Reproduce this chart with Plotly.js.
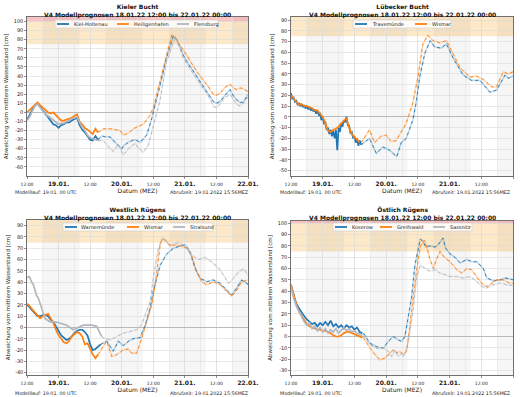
<!DOCTYPE html>
<html><head><meta charset="utf-8">
<script src="https://cdn.plot.ly/plotly-3.0.1.min.js"></script>
<style>html,body{margin:0;padding:0;background:#fff}#chart{width:520px;height:397px}</style>
</head><body><div id="chart"></div>
<script>
// ---------- axis labels ----------
const tickHours = [0, 12, 24, 36, 48, 60, 72, 84];
const tickLabels = ['12:00', '19.01.', '12:00', '20.01.', '12:00', '21.01.', '12:00', '22.01.'];
const nightStart = [6, 30, 54, 78];
const nightEnd = [20, 44, 68, 84];
const ticksKiel = [-60, -50, -40, -30, -20, -10, 0, 10, 20, 30, 40, 50, 60, 70, 80, 90, 100];
const ticksLuebeck = [-50, -40, -30, -20, -10, 0, 10, 20, 30, 40, 50, 60, 70, 80, 90];
const ticksWest = [-40, -30, -20, -10, 0, 10, 20, 30, 40, 50, 60, 70, 80, 90];
const ticksOst = [-30, -20, -10, 0, 10, 20, 30, 40, 50, 60, 70, 80, 90, 100];

// ---------- Kieler Bucht ----------
const kielObsH = [0,1,2,3,4,5,6,7,8,9,10,11,12,13,14,15,16,17,18,19,20,21,22,23,24,25,26,27];
const kielHoltenauObs = [-8,-3,3,8,10,6,2,-2,-6,-9,-13,-14,-17,-14,-13,-11,-11,-9,-7,-6,-14,-19,-22,-26,-30,-31,-26,-30];
const heiligenhafenObs = [0,3,6,9,11,8,5,3,0,-1,0,-3,-6,-9,-9,-8,-7,-6,-4,-2,-10,-14,-17,-19,-22,-24,-18,-22];
const flensburgObs = [-9,-5,1,7,9,5,1,-2,-4,-6,-8,-11,-13,-12,-12,-10,-9,-7,-6,-5,-11,-17,-20,-25,-28,-29,-30,-31];
const kielHoltenauFcH = [27,28.5,30,31.6,33.5,36,37,38.5,40,41.1,43,44.5,45.5,47.4,49.3,51,53,55.6,57,59.4,61,63.2,65,67,69,70.8,72,73.4,75,77.2,78.5,79.7,81,82.2,84];
const kielHoltenauFc = [-30,-26,-27,-27,-33,-40,-36,-33,-31,-30,-33,-28,-25,-7,14,35,60,84,80,63,55,45,37,29,20,12,10,12,18,25,18,14,11,11,20];
const heiligenhafenFcH = [27,29,31.6,33,35.4,36.6,39,40.4,42,44.2,45.5,46.8,48,49.3,51,53,55,56.3,57.5,59.4,61,63.2,65,67,69,70.8,72,73.4,75,77.2,78.5,79.7,81,82.2,84];
const heiligenhafenFc = [-22,-18,-18,-19,-20,-25,-22,-18,-16,-13,-8,-3,5,20,40,65,85,83,76,69,62,51,43,36,28,20,19,21,27,31,27,25,27,26,23];
const flensburgFcH = [27,29,31,32.8,34.7,36.6,38.5,40.4,41.1,42,44.2,46.1,48,49.3,50.6,53,56.3,58,59.4,61,63.2,65,67,69,70.8,72,73.4,75,77.2,78.5,79.7,81,82.2,84];
const flensburgFc = [-31,-31,-38,-43,-35,-47,-40,-36,-34,-38,-44,-36,-15,-2,14,55,83,72,60,52,42,34,26,18,7,5,9,16,20,14,9,7,10,17];

// ---------- Lübecker Bucht ----------
const travemuendeObsH = [0,0.5,1,1.5,2,2.5,3,3.5,4,4.5,5,5.5,6,6.5,7,7.5,8,8.5,9,9.5,10,10.5,11,11.5,12,12.5,13,13.5,14,14.5,15,15.5,16,16.5,17,17.5,18,18.5,19,19.5,20,20.5,21,21.5,22,22.5,23,23.5,24,24.5,25,25.5,26,26.5];
const travemuendeObs = [22,17,18,14,15,11,13,10,12,9,11,8,10,7,9,6,8,5,7,3,6,2,3,-3,0,-6,-5,-12,-10,-16,-12,-18,-13,-20,-12,-31,-10,-14,-6,-9,-3,-5,0,-8,-8,-15,-14,-20,-18,-24,-20,-27,-22,-26];
const wismarLObsH = [0,1,2,3,4,5,6,7,8,9,10,11,12,13,14,15,16,17,18,19,20,21,22,23,24,25,26];
const wismarLObs = [20,17,14,11,12,10,10,9,8,6,6,3,0,-6,-13,-14,-12,-11,-9,-6,-3,-1,-10,-16,-19,-21,-24];
const travemuendeFcH = [26.5,29.7,32.3,34.8,37.3,40,41.7,43.6,46.1,47.4,48.7,50.6,52.7,54.4,56.9,58.8,61.3,65.1,68.3,71.5,75.3,77.8,81,82.2,84];
const travemuendeFc = [-26,-20,-34,-28,-31,-37,-24,-20,-3,14,37,59,71,65,64,68,55,39,34,34,23,25,39,36,38];
const wismarLFcH = [26.5,29.7,31.6,34.1,36,37.9,39.8,41.7,43.6,46.1,48,49.9,51.8,53.7,56.3,58.8,60.7,63.9,67.7,70.2,72.7,75.9,77.8,80.3,82.2,84];
const wismarLFc = [-24,-12,-24,-18,-17,-23,-22,-14,-6,13,37,68,76,71,69,71,62,46,37,38,35,28,28,42,40,42];

// ---------- Westlich Rügens ----------
const warnemuendeObsH = [0,1,2,3,4,5,6,7,8,9,10,11,12,13,14,15,16,17,18,19,20,21,22,23,24,25,26,27,28];
const warnemuendeObs = [20,18,15,12,10,10,11,11,10,7,5,1,-3,-7,-9,-11,-10,-8,-5,-3,-2,-2,-4,-7,-15,-20,-19,-17,-15];
const wismarWObsH = [0,1,2,3,4,5,6,7,8,9,10,11,12,13,14,15,16,17,18,19,20,21,22,23,24,25,26,27];
const wismarWObs = [21,19,16,13,10,8,10,11,12,8,4,-2,-7,-10,-13,-14,-12,-8,-6,-4,-5,-8,-15,-14,-19,-24,-27,-24];
const stralsundObsH = [0,0.9,1.8,2.4,3.7,4.3,5.6,6.8,8.7,10.6,12.5,15.1,17.6,19.5,21.4,24.6,26.5,28.4];
const stralsundObs = [44,45,40,38,28,26,17,8,5,5,4,2,-2,0,2,2,1,-8];
const warnemuendeFcH = [28,30.3,32.8,34.7,36.6,39.2,41.1,43,44.9,46.8,48,49.9,50.6,53.1,55.6,58.2,60.1,62,63.9,65.8,68.3,70.8,73.4,75.9,77.8,79.7,81.6,83.5,84];
const warnemuendeFc = [-15,-12,-21,-12,-16,-11,-9.5,-9,2,17,32,50,55,65,70,72,73,67,52,43.5,40.5,42,39,33,28.6,35,42,39,38];
const wismarWFcH = [27,30.3,32.2,34.1,36.6,38.5,39.8,41.7,43.6,45.5,47.4,48.7,50.6,51.2,52.5,54.4,56.3,58.8,60.7,62.6,64.5,66.4,68.3,70.8,73.4,75.9,77.8,79.7,81.6,84];
const wismarWFc = [-24,-12,-25.6,-24,-19.8,-19,-22.7,-22.7,-9.5,5,20,37.7,73,77.6,77.6,71.7,73,71.7,70,63,49.5,40.5,37.7,40.5,37.7,32,27.5,33,40.5,42];
const stralsundFcH = [28.4,29,31.6,34.1,36.6,39.2,41.7,43.6,45.5,46.8,48,49.9,51.6,54.4,57.5,60.1,62.6,65.1,67.7,70.2,73.4,76.6,78.5,80.4,82.3,84];
const stralsundFc = [-8,-9,-11,-8,-5,-3.6,-2,2.4,14,23,43.6,70,79,73,75,72,64,60,62,58,51,39,43.5,49,52,46];

// ---------- Östlich Rügens ----------
const ostObsH = [0,1,2,3,4,5,6,7,8,9,10,11,12,13,14,15,16,17,18,19,20,21,22,23,24,25,26,27];
const koserowObs = [45,36,29,25,21,18,15,13,11,12,9,12,10,13,10,14,9,11,8,10,7,10,8,9,6,8,4,3];
const greifswaldObs = [46,36,28,22,18,14,11,9,8,7,6,6,5,5,4,3,1,0,0,1,3,4,4,3,2,1,0,-1];
const sassnitzObs = [44,34,27,22,17,13,10,12,7,9,5,8,4,7,3,6,4,7,3,6,8,5,7,4,5,3,2,1];
const koserowFcH = [27.4,29.9,32.4,34.9,36.8,38.7,40.6,41.9,43.1,44.4,45.6,46.9,48.9,50,51,52.6,54.5,55.7,57.5,58.5,60.2,62,64,66.5,68.5,70.3,72.8,74,76.5,79.1,81,82.8,84];
const koserowFc = [3,-6,-9,-10.3,-4.4,0,-3,-4.4,0,16,34,63,86,84,79,80,79,81,87,78,73,70,65,68,66,66,60,52,49,50,51.6,51,50];
const greifswaldFcH = [27.4,29.9,31.8,33.7,35.6,37.5,38.7,40,41.2,42.5,43.8,45,46.3,47.6,49,50.5,51.5,52.6,53.9,55,56.4,58,60.2,62.7,64.6,66.5,68.3,70.2,72.1,74,75.9,77.8,80.3,82.8,84];
const greifswaldFc = [-1,-10.3,-16,-20.7,-19,-15,-11.8,-14.5,-13,-16,-13,10,34,60,80,85,78,68,60,68,75,70,66,59,56,60,59,53,47,44,47,50,50,47,47];
const sassnitzFcH = [27.4,29.9,32.4,34.9,36.8,38.1,39.3,40.6,41.9,42.5,43.8,45,46.3,47.5,48.9,50.7,52.6,54.5,56.4,58.3,60.2,62.7,65.2,67.7,70.2,72.1,74,76.5,79.1,81.6,84];
const sassnitzFc = [1,-7.4,-10.3,-10.3,-13,-17.7,-12,-17.7,-15,-17.7,-10.3,4.4,25,52,63,60,57.5,59,56,54.5,53,53,51.6,53,48.7,44.3,42.8,45.7,47.2,45.7,45];

// ---------- helpers ----------
function hToDate(h) {
  const d = new Date(Date.UTC(2022, 0, 18, 12, 0, 0) + Math.round(h * 3600000));
  const p = n => String(n).padStart(2, '0');
  return d.getUTCFullYear() + '-' + p(d.getUTCMonth() + 1) + '-' + p(d.getUTCDate()) + ' ' +
    p(d.getUTCHours()) + ':' + p(d.getUTCMinutes()) + ':' + p(d.getUTCSeconds());
}
const W = 520, H = 397;
const px = v => v / W, py = v => 1 - v / H;
const BLUE = '#1f77b4', ORANGE = '#ff7f0e', GRAY = '#b2b6be';
const FONT = 'DejaVu Sans, sans-serif';

const panels = [
  { title: 'Kieler Bucht', range: [-70, 105], ticks: ticksKiel,
    xd: [px(27), px(248)], yd: [py(176), py(17)],
    legBox: [55, 218, 20, 28], legItems: [[57, 72], [117, 132], [177, 192]],
    st: [
      ['Kiel-Holtenau', BLUE, kielObsH, kielHoltenauObs, kielHoltenauFcH, kielHoltenauFc],
      ['Heiligenhafen', ORANGE, kielObsH, heiligenhafenObs, heiligenhafenFcH, heiligenhafenFc],
      ['Flensburg', GRAY, kielObsH, flensburgObs, flensburgFcH, flensburgFc]] },
  { title: 'Lübecker Bucht', range: [-55, 93], ticks: ticksLuebeck,
    xd: [px(291), px(513)], yd: [py(176), py(17)],
    legBox: [353, 451, 20, 28], legItems: [[355, 370], [415, 430]],
    st: [
      ['Travemünde', BLUE, travemuendeObsH, travemuendeObs, travemuendeFcH, travemuendeFc],
      ['Wismar', ORANGE, wismarLObsH, wismarLObs, wismarLFcH, wismarLFc]] },
  { title: 'Westlich Rügens', range: [-42, 95], ticks: ticksWest,
    xd: [px(27), px(248)], yd: [py(375), py(220)],
    legBox: [63, 213, 223, 231], legItems: [[65, 79], [127, 142], [173, 188]],
    st: [
      ['Warnemünde', BLUE, warnemuendeObsH, warnemuendeObs, warnemuendeFcH, warnemuendeFc],
      ['Wismar', ORANGE, wismarWObsH, wismarWObs, wismarWFcH, wismarWFc],
      ['Stralsund', GRAY, stralsundObsH, stralsundObs, stralsundFcH, stralsundFc]] },
  { title: 'Östlich Rügens', range: [-34, 102], ticks: ticksOst,
    xd: [px(291), px(513)], yd: [py(375), py(221)],
    legBox: [333, 472, 223, 231], legItems: [[335, 350], [380, 395], [433, 448]],
    st: [
      ['Koserow', BLUE, ostObsH, koserowObs, koserowFcH, koserowFc],
      ['Greifswald', ORANGE, ostObsH, greifswaldObs, greifswaldFcH, greifswaldFc],
      ['Sassnitz', GRAY, ostObsH, sassnitzObs, sassnitzFcH, sassnitzFc]] }
];

const traces = [];
const layout = {
  width: W, height: H, autosize: false,
  margin: {l: 0, r: 0, t: 0, b: 0},
  paper_bgcolor: '#ffffff', plot_bgcolor: '#ffffff',
  font: {family: FONT, color: '#222', size: 6},
  showlegend: false,
  shapes: [], annotations: []
};
const tickText = tickLabels.map((t, i) => i % 2 === 1 ? '<b>' + t + '</b>' : '<span style="font-size:4.5px">' + t + '</span>');

panels.forEach((p, i) => {
  const n = i === 0 ? '' : String(i + 1);
  const xa = 'x' + n, ya = 'y' + n;
  layout['xaxis' + n] = {
    domain: p.xd, anchor: ya, type: 'date',
    range: [hToDate(0), hToDate(84)],
    tickmode: 'array', tickvals: tickHours.map(hToDate), ticktext: tickText,
    tickfont: {size: 6, color: '#222'}, ticks: 'outside', ticklen: 2, tickwidth: 0.6, tickcolor: '#444',
    showgrid: true, gridcolor: '#dadada', gridwidth: 0.6,
    minor: {dtick: 6 * 3600000, tick0: hToDate(0), showgrid: true, gridcolor: '#e2e2e2', gridwidth: 0.6},
    showline: true, mirror: true, linecolor: '#333', linewidth: 0.7, zeroline: false,
    title: {text: 'Datum (MEZ)', font: {size: 6, color: '#222'}, standoff: 1}
  };
  layout['yaxis' + n] = {
    domain: p.yd, anchor: xa, range: p.range,
    tickmode: 'array', tickvals: p.ticks, ticktext: p.ticks.map(String),
    tickfont: {size: 5, color: '#222'}, ticks: 'outside', ticklen: 2, tickwidth: 0.6, tickcolor: '#444',
    showgrid: true, gridcolor: '#dadada', gridwidth: 0.6,
    zeroline: true, zerolinecolor: '#b4b4b4', zerolinewidth: 0.9,
    showline: true, mirror: true, linecolor: '#333', linewidth: 0.7,
    title: {text: 'Abweichung vom mittleren Wasserstand [cm]', font: {size: 5.5, color: '#222'}, standoff: 4}
  };
  // storm surge bands
  layout.shapes.push({type: 'rect', xref: xa + ' domain', yref: ya, x0: 0, x1: 1, y0: 75, y1: Math.min(100, p.range[1]),
    fillcolor: 'rgba(250,195,110,0.38)', line: {width: 0}, layer: 'below'});
  if (p.range[1] > 100) {
    layout.shapes.push({type: 'rect', xref: xa + ' domain', yref: ya, x0: 0, x1: 1, y0: 100, y1: p.range[1],
      fillcolor: 'rgba(245,120,120,0.45)', line: {width: 0}, layer: 'below'});
  }
  // night shading
  nightStart.forEach((s, k) => {
    layout.shapes.push({type: 'rect', xref: xa, yref: ya + ' domain', x0: hToDate(s), x1: hToDate(nightEnd[k]), y0: 0, y1: 1,
      fillcolor: 'rgba(0,0,0,0.035)', line: {width: 0}, layer: 'below'});
  });
  // titles
  layout.annotations.push({xref: 'paper', yref: 'paper', x: (p.xd[0] + p.xd[1]) / 2, y: i < 2 ? py(0.5) : py(204),
    xanchor: 'center', yanchor: 'top', showarrow: false, align: 'center',
    text: '<b>' + p.title + '</b><br><b>V4 Modellprognosen 18.01.22 12:00 bis 22.01.22 00:00</b>',
    font: {size: 6, color: '#111'}});
  // footers
  const fy = i < 2 ? py(192) : py(393.5);
  layout.annotations.push({xref: 'paper', yref: 'paper', x: i % 2 === 0 ? px(13) : px(278), y: fy,
    xanchor: 'left', yanchor: 'middle', showarrow: false, text: 'Modelllauf: 19.01. 00 UTC', font: {size: 4.8, color: '#222'}});
  layout.annotations.push({xref: 'paper', yref: 'paper', x: i % 2 === 0 ? px(251) : px(513), y: fy,
    xanchor: 'right', yanchor: 'middle', showarrow: false, text: 'Abrufzeit: 19.01.2022 15:56MEZ', font: {size: 4.8, color: '#222'}});

  // legend box (drawn in paper space, inside the panel)
  const b = p.legBox;
  layout.shapes.push({type: 'rect', xref: 'paper', yref: 'paper', x0: px(b[0]), x1: px(b[1]), y0: py(b[3]), y1: py(b[2]),
    fillcolor: 'rgba(255,255,255,0.85)', line: {color: '#cfcfcf', width: 0.6}, layer: 'above'});
  const cy = py((b[2] + b[3]) / 2);

  p.st.forEach((s, k) => {
    const [name, color, oh, ov, fh, fv] = s;
    const fx = fh.map(hToDate);
    traces.push({type: 'scatter', mode: 'lines', x: fx, y: fv, xaxis: xa, yaxis: ya,
      name: name + ' Prognose', hoverinfo: 'skip', line: {color: color, width: 1.6}, opacity: 0.25});
    traces.push({type: 'scatter', mode: 'lines', x: fx, y: fv, xaxis: xa, yaxis: ya,
      name: name + ' Prognose', line: {color: color, width: 0.9, dash: 'dot'}});
    const it = p.legItems[k];
    layout.shapes.push({type: 'line', xref: 'paper', yref: 'paper', x0: px(it[0]), x1: px(it[0] + 12), y0: cy, y1: cy,
      line: {color: color, width: 1.8}, layer: 'above'});
    layout.annotations.push({xref: 'paper', yref: 'paper', x: px(it[1]), y: cy, xanchor: 'left', yanchor: 'middle',
      showarrow: false, text: name, font: {size: 5, color: '#222'}});
  });
  p.st.forEach(s => {
    const [name, color, oh, ov] = s;
    traces.push({type: 'scatter', mode: 'lines', name: name, x: oh.map(hToDate), y: ov, xaxis: xa, yaxis: ya,
      line: {color: color, width: 1.7}});
  });
});

Plotly.newPlot('chart', traces, layout, {displayModeBar: false, staticPlot: true});
</script>
</body></html>
